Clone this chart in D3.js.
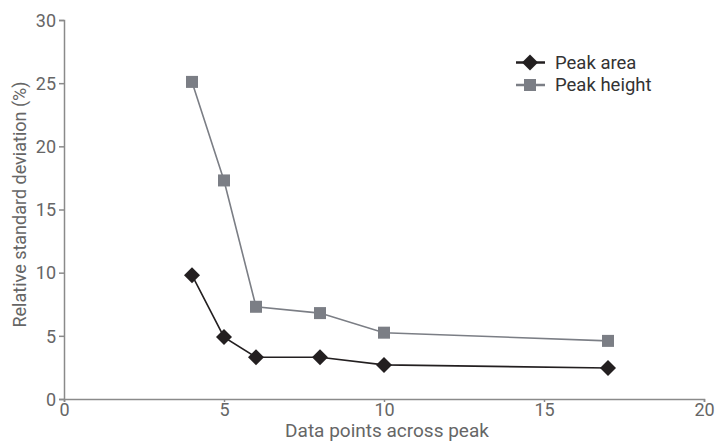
<!DOCTYPE html>
<html>
<head>
<meta charset="utf-8">
<script src="https://cdn.jsdelivr.net/npm/d3@7"></script>
<style>
  html, body { margin: 0; padding: 0; background: #fff; }
  svg { display: block; font-family: Roboto, "Noto Sans", sans-serif; }
</style>
</head>
<body>
<svg id="chart" width="717" height="443"></svg>
<script>
// Points per peak vs. relative standard deviation
const dataPoints = [4, 5, 6, 8, 10, 17];
const peakArea = [9.8, 4.9, 3.3, 3.3, 2.7, 2.45];
const peakHeight = [25.1, 17.3, 7.3, 6.8, 5.25, 4.6];
const xTicks = [0, 5, 10, 15, 20];
const yTicks = [0, 5, 10, 15, 20, 25, 30];
const seriesNames = ["Peak area", "Peak height"];

const svg = d3.select("#chart");
const margin = { left: 64, right: 13, top: 20, bottom: 44 };
const W = 717, H = 443;

const x = d3.scaleLinear().domain([0, 20]).range([margin.left, W - margin.right]);
const y = d3.scaleLinear().domain([0, 30]).range([H - margin.bottom, margin.top]);

const axisColor = "#8a8a8a";
const labelColor = "#666";

// X axis
const gx = svg.append("g")
  .attr("transform", `translate(0,${y(0)})`)
  .call(d3.axisBottom(x).tickValues(xTicks).tickSize(3).tickPadding(1));
// Y axis
const gy = svg.append("g")
  .attr("transform", `translate(${x(0)},0)`)
  .call(d3.axisLeft(y).tickValues(yTicks).tickSize(5).tickPadding(3));

[gx, gy].forEach(g => {
  g.select(".domain").attr("stroke", axisColor).attr("stroke-width", 1.5);
  g.selectAll(".tick line").attr("stroke", axisColor).attr("stroke-width", 1.5);
  g.selectAll(".tick text").attr("fill", labelColor).style("font-size", "18px")
    .style("font-family", "Roboto, sans-serif");
});
gy.selectAll(".tick text").attr("dy", "0.35em");
gx.selectAll(".tick text").attr("dy", "0.71em");

// Axis titles
svg.append("text")
  .attr("x", (x(0) + x(20)) / 2 + 3)
  .attr("y", 437)
  .attr("text-anchor", "middle")
  .attr("fill", labelColor)
  .style("font-size", "19px")
  .text("Data points across peak");

svg.append("text")
  .attr("transform", `translate(26,204.5) rotate(-90)`)
  .attr("text-anchor", "middle")
  .attr("fill", labelColor)
  .style("font-size", "18px")
  .text("Relative standard deviation (%)");

const areaColor = "#231f20";
const heightColor = "#7b7e85";

const line = d3.line().x(d => x(d[0])).y(d => y(d[1]));

const heightPts = dataPoints.map((d, i) => [d, peakHeight[i]]);
const areaPts = dataPoints.map((d, i) => [d, peakArea[i]]);

// Peak height series (squares)
svg.append("path").datum(heightPts)
  .attr("d", line).attr("fill", "none")
  .attr("stroke", heightColor).attr("stroke-width", 1.6);
const sq = 12;
svg.selectAll(".sq").data(heightPts).enter().append("rect")
  .attr("x", d => x(d[0]) - sq / 2).attr("y", d => y(d[1]) - sq / 2)
  .attr("width", sq).attr("height", sq).attr("fill", heightColor);

// Peak area series (diamonds)
svg.append("path").datum(areaPts)
  .attr("d", line).attr("fill", "none")
  .attr("stroke", areaColor).attr("stroke-width", 1.6);
const dm = 8;
const diamond = (cx, cy) => `M${cx},${cy - dm}L${cx + dm},${cy}L${cx},${cy + dm}L${cx - dm},${cy}Z`;
svg.selectAll(".dm").data(areaPts).enter().append("path")
  .attr("d", d => diamond(x(d[0]), y(d[1]))).attr("fill", areaColor);

// Legend
const legend = svg.append("g");
const lx0 = 516, lx1 = 545, lmid = 530;
const rows = [62.5, 85];
legend.append("line").attr("x1", lx0).attr("x2", lx1).attr("y1", rows[0]).attr("y2", rows[0])
  .attr("stroke", areaColor).attr("stroke-width", 2.5);
legend.append("path").attr("d", diamond(lmid, rows[0])).attr("fill", areaColor);
legend.append("line").attr("x1", lx0).attr("x2", lx1).attr("y1", rows[1]).attr("y2", rows[1])
  .attr("stroke", heightColor).attr("stroke-width", 2.5);
legend.append("rect").attr("x", lmid - sq / 2).attr("y", rows[1] - sq / 2)
  .attr("width", sq).attr("height", sq).attr("fill", heightColor);
seriesNames.forEach((n, i) => {
  legend.append("text").attr("x", 555).attr("y", rows[i]).attr("dy", "0.35em")
    .attr("fill", "#333").style("font-size", "18.5px").text(n);
});
</script>
</body>
</html>
